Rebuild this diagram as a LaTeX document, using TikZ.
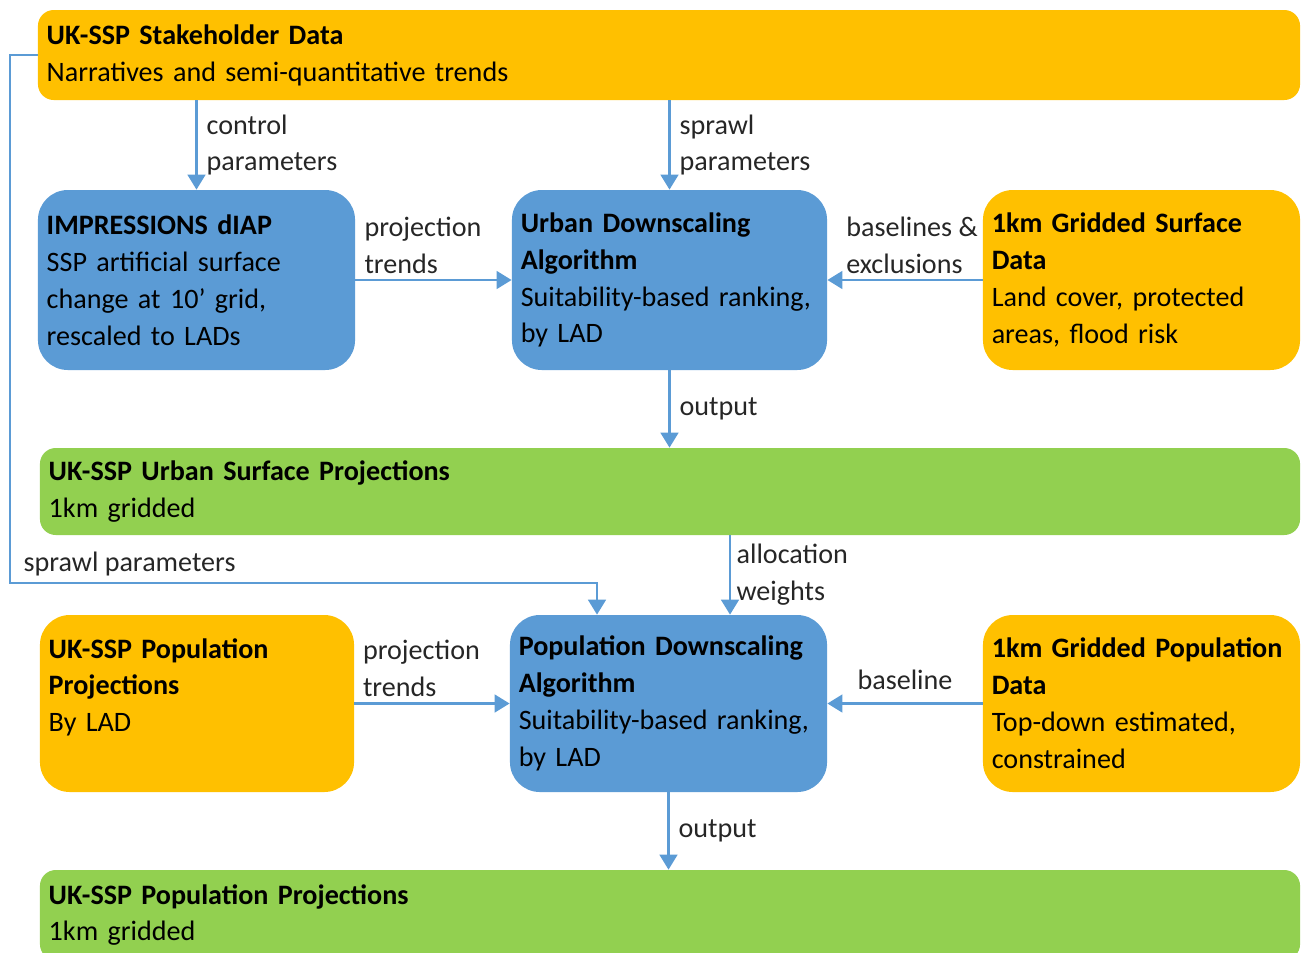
\documentclass[tikz,border=0pt]{standalone}
\usepackage{fontspec}
\setmainfont{Carlito}
\usepackage{xcolor}
\usepackage{tikz}
\usetikzlibrary{arrows.meta}
\definecolor{dataOrange}{HTML}{FFC000}
\definecolor{algoBlue}{HTML}{5B9BD5}
\definecolor{outGreen}{HTML}{92D050}
\definecolor{labelColor}{HTML}{262626}

\begin{document}
\begin{tikzpicture}[x=0.2mm,y=-0.2mm,
font=\fontsize{16}{21}\selectfont,
smallBox/.style={rounded corners=17pt,align=left,text width=5.99cm,
    inner xsep=5pt,inner ysep=4pt},
wideBox/.style={rounded corners=9pt,align=left,text width=24.85cm,
    inner xsep=5pt,inner ysep=4pt},
flow/.style={line width=1.5pt,draw=algoBlue,-{Triangle[width=10pt,length=8.5pt]}},
edgeLabel/.style={text=labelColor,align=left,inner sep=3pt}
]
\useasboundingbox (0,0) rectangle (1301,952);
% inputs and processing
\node[wideBox,fill=dataOrange,text width=24.89cm,minimum height=1.8cm] (stake) at (669,55)
  {\textbf{UK-SSP Stakeholder Data}\\Narratives and semi-quantitative trends};
\node[smallBox,fill=algoBlue,minimum height=3.6cm] (impr) at (196.5,280)
  {\textbf{IMPRESSIONS dIAP}\\SSP artificial surface\\change at 10’ grid,\\rescaled to LADs};
\node[smallBox,fill=algoBlue,text width=5.95cm,minimum height=3.6cm] (urban) at (669.5,280)
  {\textbf{Urban Downscaling}\\\textbf{Algorithm}\\Suitability-based ranking,\\by LAD};
\node[smallBox,fill=dataOrange,minimum height=3.6cm] (surf) at (1141.5,280)
  {\textbf{1km Gridded Surface}\\\textbf{Data}\\Land cover, protected\\areas, flood risk};
\node[wideBox,fill=outGreen,minimum height=1.74cm] (urbproj) at (670,491.5)
  {\textbf{UK-SSP Urban Surface Projections}\\1km gridded};
\node[smallBox,fill=dataOrange,text width=5.93cm,minimum height=3.54cm] (popproj) at (197,703.5)
  {\textbf{UK-SSP Population}\\\textbf{Projections}\\By LAD\\\mbox{}};
\node[smallBox,fill=algoBlue,minimum height=3.54cm] (popdown) at (668.5,703.5)
  {\textbf{Population Downscaling}\\\textbf{Algorithm}\\Suitability-based ranking,\\by LAD};
\node[smallBox,fill=dataOrange,minimum height=3.54cm] (popgrid) at (1141.5,703.5)
  {\textbf{1km Gridded Population}\\\textbf{Data}\\Top-down estimated,\\constrained};
\node[wideBox,fill=outGreen,minimum height=1.8cm] (popout) at (670,915)
  {\textbf{UK-SSP Population Projections}\\1km gridded};
% connectors
\draw[flow] (stake.south -| impr.north) -- node[edgeLabel,midway,right,xshift=2pt] {control\\parameters} (impr.north);
\draw[flow] (stake.south -| urban.north) -- node[edgeLabel,midway,right,xshift=2pt] {sprawl\\parameters} (urban.north);
\draw[flow] (impr.east) -- node[edgeLabel,midway,above,xshift=-6pt] {projection\\trends} (urban.west);
\draw[flow] (surf.west) -- node[edgeLabel,midway,above,xshift=4pt] {baselines \&\\exclusions} (urban.east);
\draw[flow] (urban.south) -- node[edgeLabel,midway,right,xshift=2pt] {output} (urban.south |- urbproj.north);
\draw[flow] ([xshift=1.23cm]popdown.north |- urbproj.south) -- node[edgeLabel,midway,right] {allocation\\weights} ([xshift=1.23cm]popdown.north);
\coordinate (loopTop) at (10,55);
\coordinate (loopBot) at (10,583);
\draw[flow] (stake.west) -- (loopTop) -- (loopBot)
  -| node[edgeLabel,pos=0,above right,xshift=4pt] {sprawl parameters} ([xshift=-1.43cm]popdown.north);
\draw[flow] (popproj.east) -- node[edgeLabel,midway,above,xshift=-6pt] {projection\\trends} (popdown.west);
\draw[flow] (popgrid.west) -- node[edgeLabel,midway,above,yshift=4pt] {baseline} (popdown.east);
\draw[flow] (popdown.south) -- node[edgeLabel,midway,right,xshift=2pt] {output} (popdown.south |- popout.north);
\end{tikzpicture}
\end{document}
